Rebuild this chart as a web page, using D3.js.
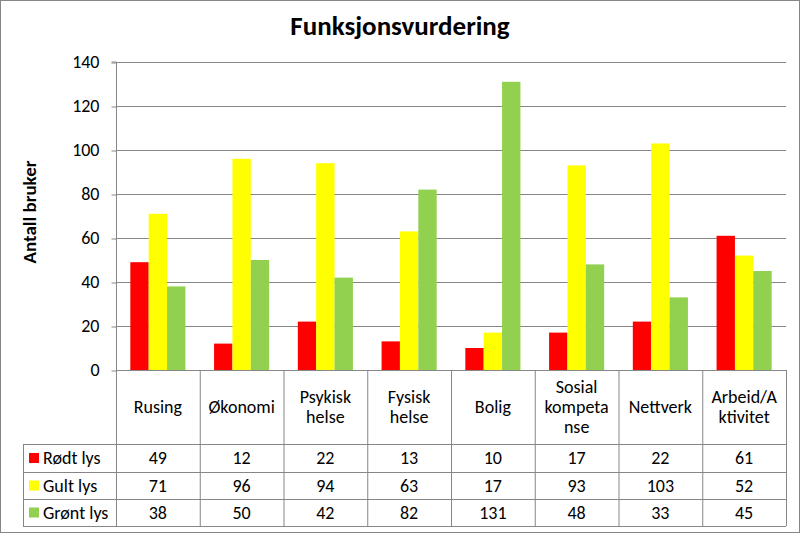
<!DOCTYPE html>
<html><head><meta charset="utf-8">
<script src="https://cdn.jsdelivr.net/npm/d3@7"></script>
<style>body{margin:0;background:#fff}svg{display:block}text{font-family:Carlito,Lato,"Open Sans",sans-serif;fill:#000}</style>
</head><body><svg id="c" width="801" height="534"></svg>
<script>
const categories = ["Rusing","Økonomi","Psykisk helse","Fysisk helse","Bolig","Sosial kompetanse","Nettverk","Arbeid/Aktivitet"];
const categoryLines = [["Rusing"],["Økonomi"],["Psykisk","helse"],["Fysisk","helse"],["Bolig"],["Sosial","kompeta","nse"],["Nettverk"],["Arbeid/A","ktivitet"]];
const seriesNames = ["Rødt lys","Gult lys","Grønt lys"];
const seriesColors = ["#ff0000","#ffff00","#92d050"];
const rodt = [49,12,22,13,10,17,22,61];
const gult = [71,96,94,63,17,93,103,52];
const gront = [38,50,42,82,131,48,33,45];
const yTicks = [0,20,40,60,80,100,120,140];
const series = [rodt,gult,gront];

const svg = d3.select("#c");
const L=116, R=786, T=62, B=370;
const tblL=23, rowY=[370,444,472,499,526];
const gridColor="#868686";
const FS=18;

svg.append("rect").attr("x",0.5).attr("y",0.5).attr("width",799).attr("height",532).attr("fill","#fff").attr("stroke","#868686");

svg.append("text").attr("x",400).attr("y",35).attr("text-anchor","middle").attr("font-size",27).attr("font-weight","bold").text("Funksjonsvurdering");

const x = d3.scaleBand().domain(categories).range([L,R]);
const y = d3.scaleLinear().domain([0,140]).range([B,T]);
const xs = d3.scaleBand().domain([0,1,2]).range([0,x.bandwidth()]).paddingInner(0).paddingOuter(0.78);

svg.append("g").selectAll("line").data(yTicks).join("line")
 .attr("x1",L).attr("x2",R).attr("y1",d=>y(d)+0.5).attr("y2",d=>y(d)+0.5).attr("stroke",gridColor);
const ya = svg.append("g").attr("transform",`translate(${L+0.5},0)`).call(d3.axisLeft(y).tickValues(yTicks).tickSize(5).tickPadding(12));
ya.select(".domain").attr("stroke",gridColor).attr("d",`M-5,${T}H0V${B}`);
ya.selectAll(".tick line").attr("stroke",gridColor).attr("transform","translate(0,0.5)");
ya.selectAll(".tick text").attr("font-size",FS).attr("font-family","Carlito,Lato,'Open Sans',sans-serif").attr("fill","#000");

svg.append("text").attr("transform",`translate(36,${212}) rotate(-90)`).attr("text-anchor","middle").attr("font-size",19).attr("font-weight","bold").text("Antall bruker");

series.forEach((s,si)=>{
  svg.append("g").selectAll("rect").data(s).join("rect")
   .attr("x",(d,i)=>x(categories[i])+xs(si)).attr("width",xs.bandwidth())
   .attr("y",d=>y(d)).attr("height",d=>y(0)-y(d)).attr("fill",seriesColors[si]);
});

const tg = svg.append("g").attr("stroke",gridColor).attr("fill","none");
categories.forEach((c,i)=>{
  tg.append("line").attr("x1",x(c)+0.5).attr("x2",x(c)+0.5).attr("y1",B).attr("y2",rowY[4]);
});
tg.append("line").attr("x1",R+0.5).attr("x2",R+0.5).attr("y1",B).attr("y2",rowY[4]);
tg.append("line").attr("x1",L).attr("x2",R).attr("y1",B+0.5).attr("y2",B+0.5);
[1,2,3,4].forEach(k=>{
  tg.append("line").attr("x1",tblL).attr("x2",R).attr("y1",rowY[k]+0.5).attr("y2",rowY[k]+0.5);
});
tg.append("line").attr("x1",tblL+0.5).attr("x2",tblL+0.5).attr("y1",rowY[1]).attr("y2",rowY[4]);

categoryLines.forEach((lines,i)=>{
  const cx = x(categories[i])+x.bandwidth()/2;
  const lh=20, mid=(rowY[0]+rowY[1])/2;
  const y0 = mid-(lines.length-1)*lh/2+6;
  const t = svg.append("text").attr("text-anchor","middle").attr("font-size",FS);
  lines.forEach((ln,j)=>t.append("tspan").attr("x",cx).attr("y",y0+j*lh).text(ln));
});
series.forEach((s,si)=>{
  const cy=(rowY[si+1]+rowY[si+2])/2;
  svg.append("rect").attr("x",29).attr("y",cy-5).attr("width",10).attr("height",10).attr("fill",seriesColors[si]);
  svg.append("text").attr("x",43).attr("y",cy+6).attr("font-size",FS).text(seriesNames[si]);
  svg.append("g").selectAll("text").data(s).join("text")
   .attr("x",(d,i)=>x(categories[i])+x.bandwidth()/2).attr("y",cy+6).attr("text-anchor","middle").attr("font-size",FS).text(d=>d);
});
</script></body></html>
